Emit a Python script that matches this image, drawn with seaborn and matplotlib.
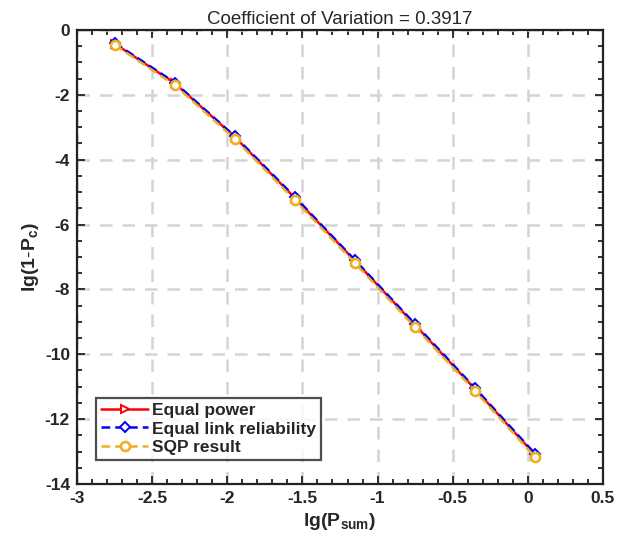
import numpy as np
import pandas as pd
import matplotlib
matplotlib.use('Agg')
import matplotlib.pyplot as plt
import seaborn as sns
from matplotlib.ticker import MultipleLocator

# data
lgPsum = [-2.75, -2.35, -1.95, -1.55, -1.15, -0.75, -0.35, 0.05]
equalPower = [-0.42, -1.64, -3.30, -5.18, -7.12, -9.10, -11.08, -13.11]
equalLink = [-0.40, -1.62, -3.28, -5.15, -7.10, -9.07, -11.05, -13.08]
sqpResult = [-0.46, -1.70, -3.36, -5.25, -7.19, -9.17, -11.14, -13.18]

sns.set_style('ticks')
plt.rcParams['font.family'] = ['Liberation Sans', 'DejaVu Sans']
plt.rcParams['mathtext.fontset'] = 'custom'
plt.rcParams['mathtext.rm'] = 'Liberation Sans'
plt.rcParams['mathtext.bf'] = 'Liberation Sans:bold'

fig = plt.figure(figsize=(6.37, 5.48), dpi=100)
ax = fig.add_axes([0.1209, 0.1168, 0.8257, 0.8285])

ax.grid(True, which='major', linestyle=(0, (5, 4)), color='#d4d4d4', linewidth=1.8)
ax.set_axisbelow(True)

sns.lineplot(x=lgPsum, y=equalPower, ax=ax, color='red', linewidth=1.8,
             marker='>', markersize=6, markerfacecolor='white', markeredgecolor='red',
             markeredgewidth=1.4, label='Equal power')
sns.lineplot(x=lgPsum, y=equalLink, ax=ax, color='blue', linewidth=1.8,
             marker='D', markersize=5, markerfacecolor='white',
             markeredgecolor='blue', markeredgewidth=1.4, label='Equal link reliability')
ax.lines[-1].set_linestyle((0, (3.5, 2)))
sns.lineplot(x=lgPsum, y=sqpResult, ax=ax, color='#EDB120', linewidth=1.8,
             marker='o', markersize=6.5, markerfacecolor='white', markeredgecolor='#EDB120',
             markeredgewidth=1.9, label='SQP result')
ax.lines[-1].set_linestyle((0, (3.5, 2)))

ax.set_xlim(-3, 0.5)
ax.set_ylim(-14, 0)
ax.xaxis.set_minor_locator(MultipleLocator(0.1))
ax.yaxis.set_minor_locator(MultipleLocator(0.5))
ax.set_xticks([-3, -2.5, -2, -1.5, -1, -0.5, 0, 0.5])
ax.set_xticklabels(['-3', '-2.5', '-2', '-1.5', '-1', '-0.5', '0', '0.5'])
ax.set_yticks([-14, -12, -10, -8, -6, -4, -2, 0])
ax.set_yticklabels(['-14', '-12', '-10', '-8', '-6', '-4', '-2', '0'])
ax.tick_params(which='both', direction='in', top=True, right=True, width=1.3,
               labelsize=12.5, pad=5, color='#222222')
ax.tick_params(which='major', length=6)
ax.tick_params(which='minor', length=3.5)
for lab in ax.get_xticklabels() + ax.get_yticklabels():
    lab.set_fontweight('bold')
for s in ax.spines.values():
    s.set_linewidth(1.6)
    s.set_color('#222222')

ax.set_xlabel(r'$\mathbf{lg(P_{sum})}$', fontsize=14, labelpad=4)
ax.set_ylabel(r'$\mathbf{lg(1\text{-}P_{c})}$', fontsize=14, labelpad=3)
ax.set_title('Coefficient of Variation = 0.3917', fontsize=13.5, pad=4)

leg = ax.legend(loc='lower left', bbox_to_anchor=(0.036, 0.052), fontsize=12.5,
                frameon=True, fancybox=False, borderpad=0.3, labelspacing=0.2,
                handlelength=2.7, handletextpad=0.2, borderaxespad=0)
leg.get_frame().set_edgecolor('#222222')
leg.get_frame().set_linewidth(1.6)
for t in leg.get_texts():
    t.set_fontweight('bold')

fig.savefig('out.png', dpi=100)
